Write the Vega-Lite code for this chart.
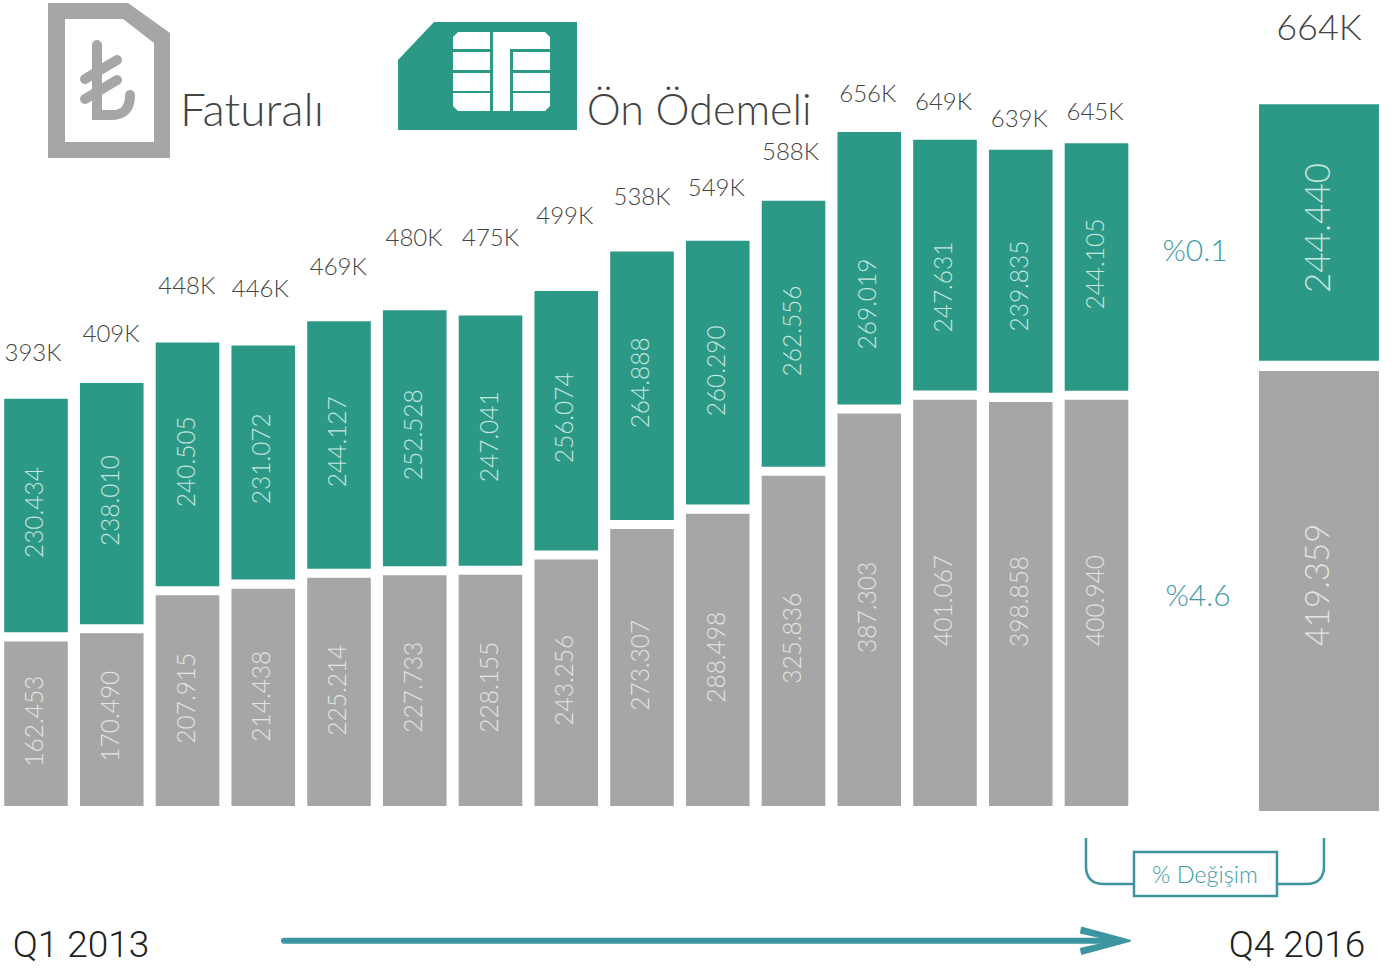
{
"$schema":"https://vega.github.io/schema/vega-lite/v6.json",
"width":1400,"height":980,"padding":0,
"autosize":{"type":"none"},
"background":"#ffffff",
"config":{"view":{"stroke":null},"text":{"font":"Lato","fontWeight":300}},
"datasets":{
"quarters":[
{"slot":1,"quarter":"Q1 2013","segment":"Faturalı","start":0,"end":162453,"mid":83725,"label":"162.453"},
{"slot":1,"quarter":"Q1 2013","segment":"Ön Ödemeli","start":171453,"end":401887,"mid":289590,"label":"230.434"},
{"slot":2,"quarter":"Q2 2013","segment":"Faturalı","start":0,"end":170490,"mid":88650,"label":"170.490"},
{"slot":2,"quarter":"Q2 2013","segment":"Ön Ödemeli","start":179490,"end":417500,"mid":301410,"label":"238.010"},
{"slot":3,"quarter":"Q3 2013","segment":"Faturalı","start":0,"end":207915,"mid":106380,"label":"207.915"},
{"slot":3,"quarter":"Q3 2013","segment":"Ön Ödemeli","start":216915,"end":457420,"mid":339825,"label":"240.505"},
{"slot":4,"quarter":"Q4 2013","segment":"Faturalı","start":0,"end":214438,"mid":108350,"label":"214.438"},
{"slot":4,"quarter":"Q4 2013","segment":"Ön Ödemeli","start":223438,"end":454510,"mid":342780,"label":"231.072"},
{"slot":5,"quarter":"Q1 2014","segment":"Faturalı","start":0,"end":225214,"mid":114260,"label":"225.214"},
{"slot":5,"quarter":"Q1 2014","segment":"Ön Ödemeli","start":234214,"end":478341,"mid":359525,"label":"244.127"},
{"slot":6,"quarter":"Q2 2014","segment":"Faturalı","start":0,"end":227733,"mid":117215,"label":"227.733"},
{"slot":6,"quarter":"Q2 2014","segment":"Ön Ödemeli","start":236733,"end":489261,"mid":366420,"label":"252.528"},
{"slot":7,"quarter":"Q3 2014","segment":"Faturalı","start":0,"end":228155,"mid":117215,"label":"228.155"},
{"slot":7,"quarter":"Q3 2014","segment":"Ön Ödemeli","start":237155,"end":484196,"mid":364450,"label":"247.041"},
{"slot":8,"quarter":"Q4 2014","segment":"Faturalı","start":0,"end":243256,"mid":124110,"label":"243.256"},
{"slot":8,"quarter":"Q4 2014","segment":"Ön Ödemeli","start":252256,"end":508330,"mid":383165,"label":"256.074"},
{"slot":9,"quarter":"Q1 2015","segment":"Faturalı","start":0,"end":273307,"mid":138885,"label":"273.307"},
{"slot":9,"quarter":"Q1 2015","segment":"Ön Ödemeli","start":282307,"end":547195,"mid":417640,"label":"264.888"},
{"slot":10,"quarter":"Q2 2015","segment":"Faturalı","start":0,"end":288498,"mid":146765,"label":"288.498"},
{"slot":10,"quarter":"Q2 2015","segment":"Ön Ödemeli","start":297498,"end":557788,"mid":429460,"label":"260.290"},
{"slot":11,"quarter":"Q3 2015","segment":"Faturalı","start":0,"end":325836,"mid":165480,"label":"325.836"},
{"slot":11,"quarter":"Q3 2015","segment":"Ön Ödemeli","start":334836,"end":597392,"mid":468860,"label":"262.556"},
{"slot":12,"quarter":"Q4 2015","segment":"Faturalı","start":0,"end":387303,"mid":196015,"label":"387.303"},
{"slot":12,"quarter":"Q4 2015","segment":"Ön Ödemeli","start":396303,"end":665322,"mid":495455,"label":"269.019"},
{"slot":13,"quarter":"Q1 2016","segment":"Faturalı","start":0,"end":401067,"mid":202910,"label":"401.067"},
{"slot":13,"quarter":"Q1 2016","segment":"Ön Ödemeli","start":410067,"end":657698,"mid":512200,"label":"247.631"},
{"slot":14,"quarter":"Q2 2016","segment":"Faturalı","start":0,"end":398858,"mid":201925,"label":"398.858"},
{"slot":14,"quarter":"Q2 2016","segment":"Ön Ödemeli","start":407858,"end":647693,"mid":513185,"label":"239.835"},
{"slot":15,"quarter":"Q3 2016","segment":"Faturalı","start":0,"end":400940,"mid":202910,"label":"400.940"},
{"slot":15,"quarter":"Q3 2016","segment":"Ön Ödemeli","start":409940,"end":654045,"mid":534855,"label":"244.105"}
],
"totals":[
{"slot":0.96,"amount":446205,"label":"393K"},{"slot":1.99,"amount":464920,"label":"409K"},{"slot":2.99,"amount":512200,"label":"448K"},
{"slot":3.96,"amount":509245,"label":"446K"},{"slot":4.99,"amount":530915,"label":"469K"},{"slot":5.99,"amount":559480,"label":"480K"},
{"slot":7,"amount":559480,"label":"475K"},{"slot":7.98,"amount":581150,"label":"499K"},{"slot":9,"amount":599865,"label":"538K"},
{"slot":9.98,"amount":608730,"label":"549K"},{"slot":10.96,"amount":644190,"label":"588K"},{"slot":11.98,"amount":701320,"label":"656K"},
{"slot":12.98,"amount":693440,"label":"649K"},{"slot":13.98,"amount":676695,"label":"639K"},{"slot":14.98,"amount":683590,"label":"645K"}
],
"latest":[
{"slot":17.937,"quarter":"Q4 2016","segment":"Faturalı","start":0,"end":419359,"mid":215378,"label":"419.359"},
{"slot":17.937,"quarter":"Q4 2016","segment":"Ön Ödemeli","start":429000,"end":673440,"mid":555599,"label":"244.440"}
]
},
"encoding":{"x":{"field":"slot","type":"quantitative","axis":null,"scale":{"domain":[0.52475,19.0066],"nice":false,"zero":false,"padding":0}}},
"layer":[
{"layer":[
{"data":{"name":"quarters"},"mark":{"type":"bar","width":63.6},
"encoding":{"y":{"field":"start","type":"quantitative","axis":null,"scale":{"domain":[-171738,795522],"nice":false,"zero":false}},"y2":{"field":"end"},
"color":{"field":"segment","type":"nominal","legend":null,"scale":{"domain":["Faturalı","Ön Ödemeli"],"range":["#a6a6a6","#2c9987"]}}}},
{"data":{"name":"quarters"},"transform":[{"filter":"datum.segment === 'Faturalı'"}],"mark":{"type":"text","angle":270,"fontSize":24.5,"align":"center","baseline":"middle","color":"#e4e4e4"},
"encoding":{"y":{"field":"mid","type":"quantitative","axis":null,"scale":{"domain":[-171738,795522],"nice":false,"zero":false}},"text":{"field":"label"}}},
{"data":{"name":"quarters"},"transform":[{"filter":"datum.segment !== 'Faturalı'"}],"mark":{"type":"text","angle":270,"fontSize":24.5,"align":"center","baseline":"middle","color":"#c6e6df"},
"encoding":{"y":{"field":"mid","type":"quantitative","axis":null,"scale":{"domain":[-171738,795522],"nice":false,"zero":false}},"text":{"field":"label"}}},
{"data":{"name":"totals"},"mark":{"type":"text","fontSize":24,"align":"center","baseline":"middle","color":"#444444"},
"encoding":{"y":{"field":"amount","type":"quantitative","axis":null,"scale":{"domain":[-171738,795522],"nice":false,"zero":false}},"text":{"field":"label"}}},
{"data":{"values":[{"slot":16.3,"amount":546675,"label":"%0.1"},{"slot":16.34,"amount":205865,"label":"%4.6"}]},"mark":{"type":"text","fontSize":30,"fontWeight":300,"align":"center","baseline":"middle","color":"#3f9aa6"},
"encoding":{"y":{"field":"amount","type":"quantitative","axis":null,"scale":{"domain":[-171738,795522],"nice":false,"zero":false}},"text":{"field":"label"}}},
{"data":{"values":[{"slot":2.9,"amount":684978,"label":"Faturalı"}]},"mark":{"type":"text","fontSize":46,"fontWeight":300,"align":"left","baseline":"middle","color":"#444444"},
"encoding":{"y":{"field":"amount","type":"quantitative","axis":null,"scale":{"domain":[-171738,795522],"nice":false,"zero":false}},"text":{"field":"label"}}},
{"data":{"values":[{"slot":8.27,"amount":684978,"label":"Ön Ödemeli"}]},"mark":{"type":"text","fontSize":43,"fontWeight":300,"align":"left","baseline":"middle","color":"#444444"},
"encoding":{"y":{"field":"amount","type":"quantitative","axis":null,"scale":{"domain":[-171738,795522],"nice":false,"zero":false}},"text":{"field":"label"}}},
{"data":{"values":[{"slot":1.594,"amount":-138000,"label":"Q1 2013"},{"slot":17.647,"amount":-138000,"label":"Q4 2016"}]},"mark":{"type":"text","font":"Roboto","fontWeight":300,"fontSize":37,"align":"center","baseline":"middle","color":"#222222"},
"encoding":{"y":{"field":"amount","type":"quantitative","axis":null,"scale":{"domain":[-171738,795522],"nice":false,"zero":false}},"text":{"field":"label"}}},
{"data":{"values":[{"slot":16.432,"amount":-68950,"label":"% Değişim"}]},"mark":{"type":"text","fontSize":23.5,"align":"center","baseline":"middle","color":"#3f9aa6"},
"encoding":{"y":{"field":"amount","type":"quantitative","axis":null,"scale":{"domain":[-171738,795522],"nice":false,"zero":false}},"text":{"field":"label"}}},
{"data":{"values":[{"slot":4.274,"end":15.178,"amount":-132975}]},"mark":{"type":"rule","strokeWidth":6,"strokeCap":"round","color":"#3d95a1"},
"encoding":{"x2":{"field":"end"},"y":{"field":"amount","type":"quantitative","axis":null,"scale":{"domain":[-171738,795522],"nice":false,"zero":false}}}},
{"data":{"values":[{"slot":15.112,"amount":-132975}]},"mark":{"type":"point","shape":"M.25 0L-.23 .13L-.24 .08L-.02 .03L-.02 -.03L-.24 -.08L-.23 -.13Z","size":40000,"filled":true,"fill":"#3d95a1","stroke":"#3d95a1","strokeWidth":2,"strokeJoin":"round","opacity":1},
"encoding":{"y":{"field":"amount","type":"quantitative","axis":null,"scale":{"domain":[-171738,795522],"nice":false,"zero":false}}}},
{"data":{"values":[{"slot":16.432,"amount":-60085}]},"mark":{"type":"point","shape":"M-1.19 -.29L-1.19 -.01Q-1.19 .17 -1.01 .17L-.71 .17M-.71 -.15L.72 -.15L.72 .29L-.71 .29ZM.72 .17L1.01 .17Q1.19 .17 1.19 -.01L1.19 -.29","size":40000,"filled":false,"stroke":"#3d95a1","strokeWidth":2.5,"opacity":1},
"encoding":{"y":{"field":"amount","type":"quantitative","axis":null,"scale":{"domain":[-171738,795522],"nice":false,"zero":false}}}},
{"data":{"values":[{"slot":1.964,"amount":716562}]},"mark":{"type":"point","shape":"M-.61 -.77L.19 -.77L.61 -.47L.61 .78L-.61 .78ZM-.44 -.61L-.44 .62L.45 .62L.45 -.37L.14 -.61Z","size":40000,"filled":true,"fill":"#a6a6a6","stroke":null,"opacity":1},
"encoding":{"y":{"field":"amount","type":"quantitative","axis":null,"scale":{"domain":[-171738,795522],"nice":false,"zero":false}}}},
{"data":{"values":[{"slot":1.964,"amount":716562}]},"mark":{"type":"point","shape":"M-.12 -.35L-.12 .35L.03 .35Q.21 .35 .21 .15M-.24 -.01L.08 -.20M-.24 .19L.08 0","size":40000,"filled":false,"stroke":"#a6a6a6","strokeWidth":10,"strokeCap":"round","opacity":1},
"encoding":{"y":{"field":"amount","type":"quantitative","axis":null,"scale":{"domain":[-171738,795522],"nice":false,"zero":false}}}},
{"data":{"values":[{"slot":6.967,"amount":720510}]},"mark":{"type":"point","shape":"M-.54 -.54L.89 -.54L.89 .54L-.90 .54L-.90 -.16Z","size":40000,"filled":true,"fill":"#2c9987","stroke":null,"opacity":1},
"encoding":{"y":{"field":"amount","type":"quantitative","axis":null,"scale":{"domain":[-171738,795522],"nice":false,"zero":false}}}},
{"data":{"values":[{"slot":6.967,"amount":720510}]},"mark":{"type":"point","shape":"M-.30 -.44L.02 -.44L.02 -.27L-.35 -.27L-.35 -.39ZM-.35 -.24L.02 -.24L.02 -.06L-.35 -.06ZM-.35 -.03L.02 -.03L.02 .15L-.35 .15ZM-.35 .17L.02 .17L.02 .35L-.30 .35L-.35 .30ZM.05 -.44L.57 -.44L.62 -.39L.62 -.27L.22 -.27L.22 .35L.05 .35ZM.25 -.24L.62 -.24L.62 -.06L.25 -.06ZM.25 -.03L.62 -.03L.62 .15L.25 .15ZM.25 .17L.62 .17L.62 .30L.57 .35L.25 .35Z","size":40000,"filled":true,"fill":"#ffffff","stroke":null,"opacity":1},
"encoding":{"y":{"field":"amount","type":"quantitative","axis":null,"scale":{"domain":[-171738,795522],"nice":false,"zero":false}}}}
]},
{"layer":[
{"data":{"name":"latest"},"mark":{"type":"bar","width":120},
"encoding":{"y":{"field":"start","type":"quantitative","axis":null,"scale":{"domain":[-161057,772883],"nice":false,"zero":false}},"y2":{"field":"end"},
"color":{"field":"segment","type":"nominal","legend":null,"scale":{"domain":["Faturalı","Ön Ödemeli"],"range":["#a6a6a6","#2c9987"]}}}},
{"data":{"name":"latest"},"transform":[{"filter":"datum.segment === 'Faturalı'"}],"mark":{"type":"text","angle":270,"fontSize":33,"align":"center","baseline":"middle","color":"#e4e4e4"},
"encoding":{"y":{"field":"mid","type":"quantitative","axis":null,"scale":{"domain":[-161057,772883],"nice":false,"zero":false}},"text":{"field":"label"}}},
{"data":{"name":"latest"},"transform":[{"filter":"datum.segment !== 'Faturalı'"}],"mark":{"type":"text","angle":270,"fontSize":35,"align":"center","baseline":"middle","color":"#c6e6df"},
"encoding":{"y":{"field":"mid","type":"quantitative","axis":null,"scale":{"domain":[-161057,772883],"nice":false,"zero":false}},"text":{"field":"label"}}},
{"data":{"values":[{"slot":17.937,"amount":745246,"label":"664K"}]},"mark":{"type":"text","fontSize":36,"align":"center","baseline":"middle","color":"#444444"},
"encoding":{"y":{"field":"amount","type":"quantitative","axis":null,"scale":{"domain":[-161057,772883],"nice":false,"zero":false}},"text":{"field":"label"}}}
]}
],
"resolve":{"scale":{"y":"independent","color":"independent"}}
}
